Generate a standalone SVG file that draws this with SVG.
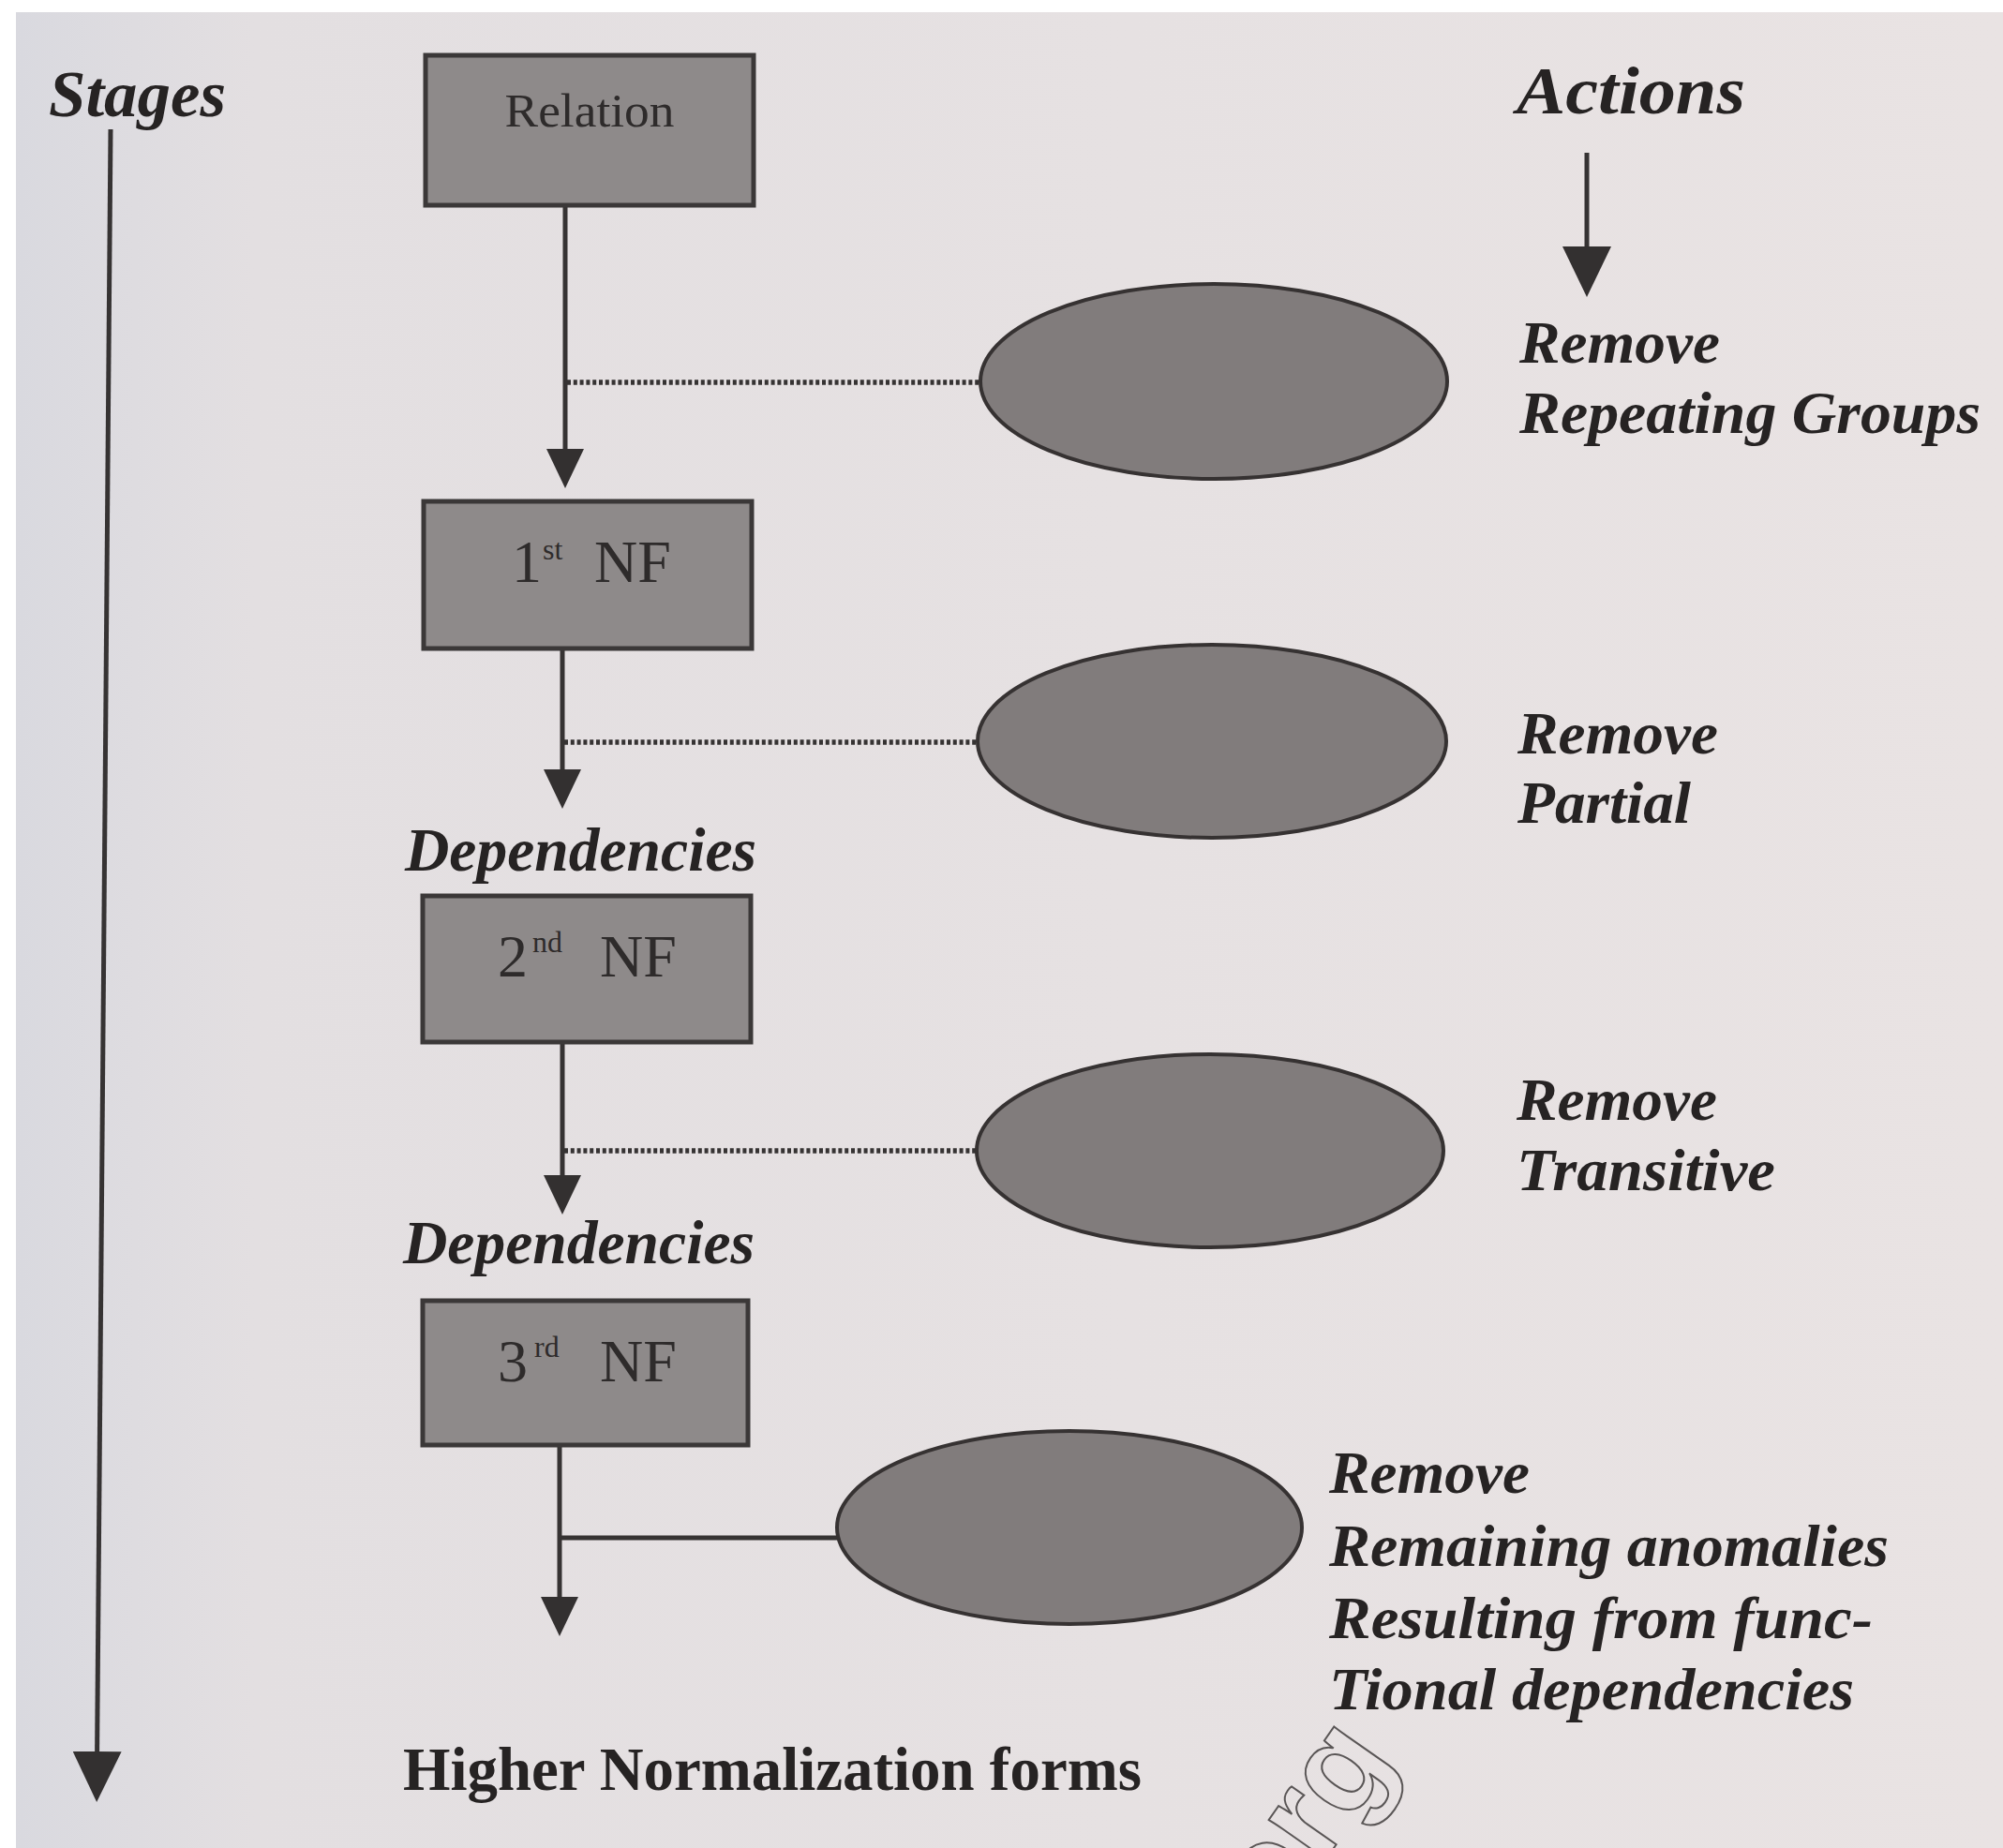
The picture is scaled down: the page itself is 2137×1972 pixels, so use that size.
<svg xmlns="http://www.w3.org/2000/svg" width="2137" height="1972" viewBox="0 0 2137 1972">
  <defs>
    <linearGradient id="paper" x1="0" y1="0" x2="1" y2="0">
      <stop offset="0" stop-color="#d9d9df"/>
      <stop offset="0.12" stop-color="#e3dfe1"/>
      <stop offset="1" stop-color="#e9e3e3"/>
    </linearGradient>
    <!-- filled arrowheads; the line ends at the head's base -->
    <marker id="head" viewBox="0 0 42 40" refX="0" refY="20" markerWidth="42" markerHeight="40" markerUnits="userSpaceOnUse" orient="auto">
      <path d="M0,0 L42,20 L0,40 Z" fill="#333030"/>
    </marker>
    <marker id="headBig" viewBox="0 0 54 52" refX="0" refY="26" markerWidth="54" markerHeight="52" markerUnits="userSpaceOnUse" orient="auto">
      <path d="M0,0 L54,26 L0,52 Z" fill="#333030"/>
    </marker>
    <style>
      .box { fill: #8e8a8a; stroke: #3b3838; stroke-width: 5; }
      .oval { fill: #817c7c; stroke: #363232; stroke-width: 4; }
      .flow { fill: none; stroke: #363333; stroke-width: 5; }
      .dots { fill: none; stroke: #363333; stroke-width: 5.5; stroke-dasharray: 4 2.8; }
      .bi { font-family: "Liberation Serif", "Times New Roman", serif; font-weight: bold; font-style: italic; fill: #262323; }
      .nf { font-family: "Liberation Serif", "Times New Roman", serif; fill: #2e2b2b; }
      .sup { font-size: 32px; }
      .mark { font-family: "Liberation Sans", Arial, sans-serif; font-weight: bold; fill: none; stroke: #5a5656; stroke-width: 2; }
    </style>
  </defs>

  <!-- scanned page -->
  <rect x="0" y="0" width="2137" height="1972" fill="#ffffff"/>
  <rect x="17" y="13" width="2120" height="1959" fill="url(#paper)"/>

  <!-- column headings -->
  <g id="stages-axis">
    <text class="bi" x="52" y="124" font-size="70" textLength="189" lengthAdjust="spacingAndGlyphs">Stages</text>
    <line class="flow" x1="118" y1="138" x2="103.6" y2="1869" stroke-width="6" marker-end="url(#headBig)"/>
  </g>
  <g id="actions-axis">
    <text class="bi" x="1618" y="121" font-size="72" textLength="244" lengthAdjust="spacingAndGlyphs">Actions</text>
    <line class="flow" x1="1693" y1="163" x2="1693" y2="263" stroke-width="5" marker-end="url(#headBig)"/>
  </g>

  <!-- connectors -->
  <g id="connectors">
    <line class="flow" x1="603" y1="219" x2="603" y2="479" marker-end="url(#head)"/>
    <line class="flow" x1="600" y1="692" x2="600" y2="821" marker-end="url(#head)"/>
    <line class="flow" x1="600" y1="1112" x2="600" y2="1254" marker-end="url(#head)"/>
    <line class="flow" x1="597" y1="1542" x2="597" y2="1704" marker-end="url(#head)"/>
    <line class="dots" x1="605" y1="408" x2="1046" y2="408"/>
    <line class="dots" x1="602" y1="792" x2="1042" y2="792"/>
    <line class="dots" x1="602" y1="1228" x2="1042" y2="1228"/>
    <line class="flow" x1="597" y1="1641" x2="894" y2="1641"/>
  </g>

  <!-- stages -->
  <g id="relation">
    <rect class="box" x="454" y="59" width="350" height="160"/>
    <text class="nf" x="629" y="135" font-size="50" text-anchor="middle" textLength="181" lengthAdjust="spacingAndGlyphs">Relation</text>
  </g>
  <g id="nf1">
    <rect class="box" x="452" y="535" width="350" height="157"/>
    <text class="nf" font-size="64" y="621"><tspan x="546">1</tspan><tspan class="sup" x="579" dy="-24">st</tspan><tspan x="634" dy="24">NF</tspan></text>
  </g>
  <g id="dep1">
    <text class="bi" x="432" y="929" font-size="65" textLength="375" lengthAdjust="spacingAndGlyphs">Dependencies</text>
  </g>
  <g id="nf2">
    <rect class="box" x="451" y="956" width="350" height="156"/>
    <text class="nf" font-size="64" y="1042"><tspan x="531">2</tspan><tspan class="sup" x="568" dy="-26">nd</tspan><tspan x="640" dy="26">NF</tspan></text>
  </g>
  <g id="dep2">
    <text class="bi" x="430" y="1348" font-size="65" textLength="375" lengthAdjust="spacingAndGlyphs">Dependencies</text>
  </g>
  <g id="nf3">
    <rect class="box" x="451" y="1388" width="347" height="154"/>
    <text class="nf" font-size="64" y="1474"><tspan x="531">3</tspan><tspan class="sup" x="570" dy="-26">rd</tspan><tspan x="640" dy="26">NF</tspan></text>
  </g>
  <g id="higher">
    <text x="430" y="1910" font-size="65" font-family="Liberation Serif, Times New Roman, serif" font-weight="bold" fill="#262323" textLength="788" lengthAdjust="spacingAndGlyphs">Higher Normalization forms</text>
  </g>

  <!-- actions -->
  <g id="act-repeating">
    <ellipse class="oval" cx="1295" cy="407" rx="249" ry="104"/>
    <text class="bi" font-size="64"><tspan x="1621" y="387" textLength="214" lengthAdjust="spacingAndGlyphs">Remove</tspan><tspan x="1621" y="462" textLength="492" lengthAdjust="spacingAndGlyphs">Repeating Groups</tspan></text>
  </g>
  <g id="act-partial">
    <ellipse class="oval" cx="1293" cy="791" rx="250" ry="103"/>
    <text class="bi" font-size="64"><tspan x="1619" y="804" textLength="214" lengthAdjust="spacingAndGlyphs">Remove</tspan><tspan x="1619" y="878" textLength="185" lengthAdjust="spacingAndGlyphs">Partial</tspan></text>
  </g>
  <g id="act-transitive">
    <ellipse class="oval" cx="1291" cy="1228" rx="249" ry="103"/>
    <text class="bi" font-size="64"><tspan x="1618" y="1195" textLength="214" lengthAdjust="spacingAndGlyphs">Remove</tspan><tspan x="1618" y="1270" textLength="276" lengthAdjust="spacingAndGlyphs">Transitive</tspan></text>
  </g>
  <g id="act-remaining">
    <ellipse class="oval" cx="1141" cy="1630" rx="248" ry="103"/>
    <text class="bi" font-size="64"><tspan x="1418" y="1593" textLength="214" lengthAdjust="spacingAndGlyphs">Remove</tspan><tspan x="1418" y="1671" textLength="597" lengthAdjust="spacingAndGlyphs">Remaining anomalies</tspan><tspan x="1418" y="1748" textLength="580" lengthAdjust="spacingAndGlyphs">Resulting from func-</tspan><tspan x="1418" y="1824" textLength="560" lengthAdjust="spacingAndGlyphs">Tional dependencies</tspan></text>
  </g>

  <!-- outlined stamp at the page foot -->
  <text class="mark" font-size="140" transform="translate(1360,2062) rotate(-55)">org</text>
</svg>
